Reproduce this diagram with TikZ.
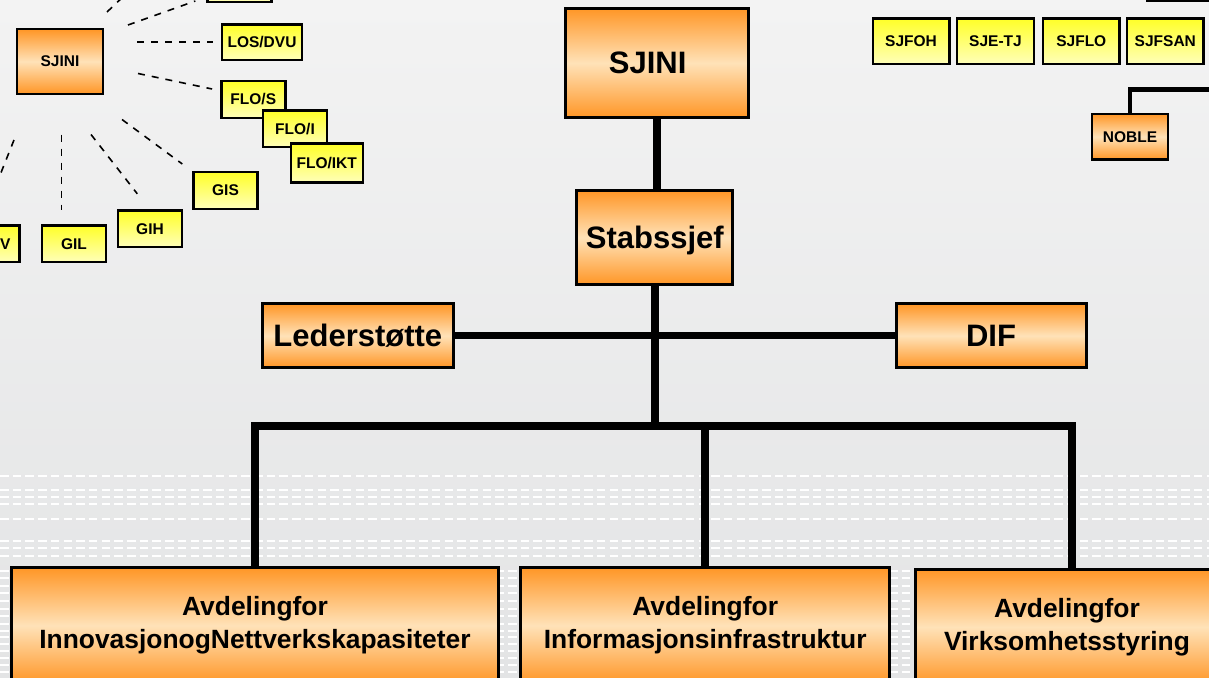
\documentclass[tikz,border=0pt]{standalone}
\usepackage{fontspec}
\setmainfont{Liberation Sans}
\definecolor{orng}{RGB}{255,150,38}
\definecolor{peach}{RGB}{255,226,184}
\definecolor{ylwtop}{RGB}{255,255,40}
\definecolor{ylwbot}{RGB}{255,255,185}
\definecolor{bgtop}{RGB}{243,243,243}
\definecolor{bgbot}{RGB}{227,228,229}

\begin{document}
\begin{tikzpicture}[x=1pt,y=-1pt,
    obox/.style={draw,line width=3pt,top color=orng,bottom color=orng,middle color=peach,
      inner sep=0pt,align=center,font=\bfseries\fontsize{31}{36}\selectfont},
    avdbox/.style={obox,minimum height=116pt,font=\bfseries\fontsize{26.4}{33}\selectfont},
    sbox/.style={obox,line width=2.4pt,font=\bfseries\fontsize{15.5}{18}\selectfont},
    ybox/.style={draw,line width=2.4pt,top color=ylwtop,bottom color=ylwbot,inner sep=0pt,
      minimum width=64pt,minimum height=36.6pt,font=\bfseries\fontsize{15.5}{18}\selectfont},
    conn/.style={line width=7.5pt},
    dline/.style={line width=1.6pt,dash pattern=on 7pt off 7pt},
    stripe/.style={white,line width=2pt,dash pattern=on 8.5pt off 4.2pt}]
  \useasboundingbox (0,0) rectangle (1209,677);
  \clip (0,0) rectangle (1209,677);
  \shade[top color=bgtop,bottom color=bgbot] (0,0) rectangle (1209,677);
  \foreach \yy in {475.5,489.5,497,504,519,541,548,556,570.5,578,585.5,593,601,608.5,
      616,623.5,630.5,637,643.5,650.5,657.5,665,672}
    \draw[stripe] (0,\yy) -- (1209,\yy);

  \node[sbox,minimum width=85.6pt,minimum height=64.6pt] (sjs) at (60,61.5) {SJINI};
  \node[ybox] (tb) at (239.5,-16.5) {};
  \node[ybox,minimum width=80pt,minimum height=35.3pt] (losdvu) at (262,42.2) {LOS/DVU};
  \node[ybox] (flos) at (253.3,99.5) {FLO/S};
  \node[ybox] (floi) at (295,128.8) {FLO/I};
  \node[ybox,minimum width=72pt,minimum height=39pt] (floikt) at (326.7,163) {FLO/IKT};
  \node[ybox] (gis) at (225.5,190.5) {GIS};
  \node[ybox] (gih) at (150,228.8) {GIH};
  \node[ybox] (gil) at (74,243.7) {GIL};
  \node[ybox,text width=46.4pt,align=right] (gv) at (-12.7,243.7) {V};
  \draw[dline] ([xshift=3pt,yshift=16pt]sjs.north east) -- ([xshift=22pt,yshift=34pt]sjs.north east);
  \draw[dline] ([xshift=24pt,yshift=3pt]sjs.north east) -- ([xshift=-11pt,yshift=2pt]tb.south west);
  \draw[dline] ([xshift=33pt]sjs.east |- losdvu.west) -- ([xshift=-8pt]losdvu.west);
  \draw[dline] ([xshift=34pt,yshift=-12pt]sjs.east) -- ([xshift=-8pt,yshift=10.5pt]flos.west);
  \draw[dline] ([xshift=18pt,yshift=-24.5pt]sjs.south east) -- ([xshift=-10pt,yshift=7pt]gis.north west);
  \draw[dline] ([xshift=31pt,yshift=-39.5pt]sjs.south) -- ([xshift=-12.7pt,yshift=15.5pt]gih.north);
  \draw[dline] ([xshift=1.3pt,yshift=-39.5pt]sjs.south) -- ([xshift=-12.7pt,yshift=14.7pt]gil.north);
  \draw[dline] ([xshift=-46pt,yshift=-45pt]sjs.south) -- ([xshift=10.7pt,yshift=44pt]gv.north);

  \node[sbox,minimum width=90pt,minimum height=40pt] (trb) at (1192,-19.5) {};
  \node[ybox,minimum width=76.6pt,minimum height=45.6pt] (sjfoh) at (911,41.3) {SJFOH};
  \node[ybox,minimum width=76.6pt,minimum height=45.6pt] (sjetj) at (995.5,41.3) {SJE-TJ};
  \node[ybox,minimum width=76.6pt,minimum height=45.6pt] (sjflo) at (1081.3,41.3) {SJFLO};
  \node[ybox,minimum width=76.6pt,minimum height=45.6pt] (sjfsan) at (1165.3,41.3) {SJFSAN};
  \node[sbox,minimum width=76.2pt,minimum height=45.6pt] (noble) at (1130,136.7) {NOBLE};
  \coordinate (nobleout) at (1220,89.7);
  \draw[line width=4.7pt] (noble.north) |- (nobleout);

  \node[obox,minimum width=183.3pt,minimum height=109.6pt] (sjbig) at (657.2,63) {SJINI\hspace{19pt}};
  \node[obox,minimum width=156pt,minimum height=94pt,text depth=0pt] (stab) at (654.8,237.5) {Stabssjef};
  \node[obox,minimum width=190.6pt,minimum height=63.7pt] (leder) at (357.8,335.7) {Lederstøtte};
  \node[obox,minimum width=190pt,minimum height=63.7pt] (dif) at (991,335.7) {DIF};
  \node[avdbox,minimum width=486.5pt] (avd1) at (255,625.5) {Avdelingfor\\InnovasjonogNettverkskapasiteter};
  \node[avdbox,minimum width=369.3pt] (avd2) at (705.2,625.5) {Avdelingfor\\Informasjonsinfrastruktur};
  \node[avdbox,minimum width=303pt] (avd3) at (1067,627) {Avdelingfor\\Virksomhetsstyring};
  \coordinate (bus) at (654.8,426);
  \draw[conn] (sjbig.south) -- (sjbig.south |- stab.north);
  \draw[conn] (leder) -- (dif);
  \draw[conn] (stab.south) -- (bus);
  \draw[conn] (bus) -| (avd1.north);
  \draw[conn] (bus) -| (avd2.north);
  \draw[conn] (bus) -| ([xshift=5pt]avd3.north);
\end{tikzpicture}
\end{document}
